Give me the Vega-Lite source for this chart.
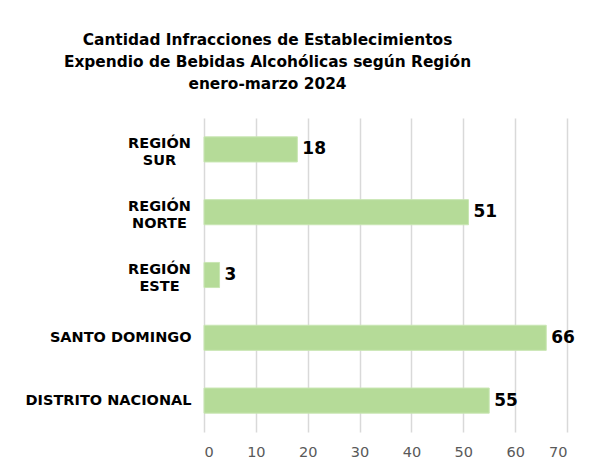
{
  "$schema": "https://vega.github.io/schema/vega-lite/v6.json",
  "width": 363,
  "height": 314,
  "autosize": "none",
  "padding": {"left": 204, "top": 118, "right": 24, "bottom": 39},
  "background": "white",
  "title": {
    "text": ["Cantidad Infracciones de Establecimientos", "Expendio de Bebidas Alcohólicas según Región", "enero-marzo 2024"],
    "font": "DejaVu Sans",
    "fontSize": 15.4,
    "fontWeight": "bold",
    "color": "#000000",
    "lineHeight": 22,
    "anchor": "middle",
    "dx": -118,
    "offset": 26
  },
  "data": {
    "values": [
      {"region": "REGIÓN|SUR", "valor": 18},
      {"region": "REGIÓN|NORTE", "valor": 51},
      {"region": "REGIÓN|ESTE", "valor": 3},
      {"region": "SANTO DOMINGO", "valor": 66},
      {"region": "DISTRITO NACIONAL", "valor": 55}
    ]
  },
  "encoding": {
    "y": {
      "field": "region",
      "type": "nominal",
      "sort": null,
      "title": null,
      "scale": {"paddingInner": 0.6, "paddingOuter": 0.3},
      "axis": {
        "labelExpr": "split(datum.value, '|')",
        "labelFont": "DejaVu Sans",
        "labelFontSize": 14.5,
        "labelFontWeight": "bold",
        "labelColor": "#000000",
        "labelLineHeight": 17,
        "labelOffset": {"condition": {"test": "indexof(datum.value, '|') >= 0", "value": -5}, "value": 0},
        "labelAlign": {"condition": {"test": "indexof(datum.value, '|') >= 0", "value": "center"}, "value": "right"},
        "labelPadding": {"condition": {"test": "indexof(datum.value, '|') >= 0", "value": 45}, "value": 13},
        "ticks": false,
        "domain": false,
        "grid": false,
        "labelLimit": 300
      }
    },
    "x": {
      "field": "valor",
      "type": "quantitative",
      "title": null,
      "scale": {"domain": [0, 70], "nice": false},
      "axis": {
        "values": [0, 10, 20, 30, 40, 50, 60, 70],
        "labelFont": "DejaVu Sans",
        "labelFontSize": 14.5,
        "labelColor": "#595959",
        "labelPadding": 13,
        "ticks": false,
        "domain": false,
        "grid": true,
        "gridColor": "#d9d9d9",
        "gridWidth": 1.5
      }
    }
  },
  "layer": [
    {
      "mark": {"type": "bar", "fill": "#b5db98", "stroke": "#c9e6b3", "strokeWidth": 1}
    },
    {
      "mark": {"type": "text", "align": "left", "baseline": "middle", "dx": 5, "font": "DejaVu Sans", "fontSize": 17, "fontWeight": "bold", "color": "#000000"},
      "encoding": {"text": {"field": "valor", "type": "quantitative"}}
    }
  ],
  "config": {"view": {"stroke": null}}
}
